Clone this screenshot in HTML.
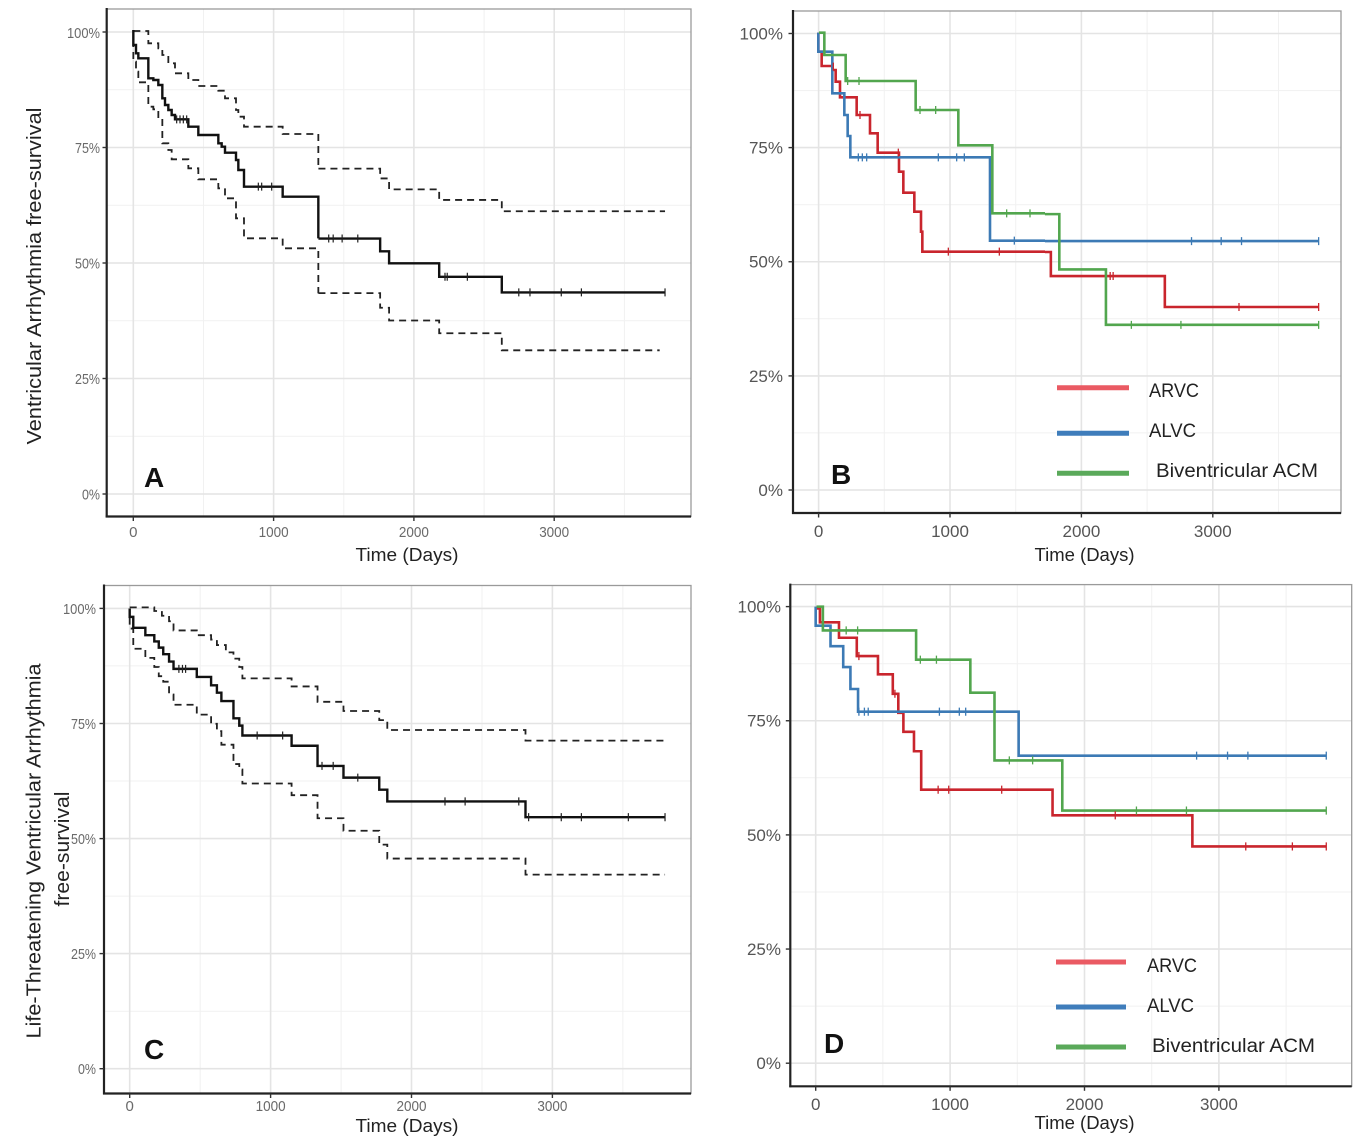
<!DOCTYPE html>
<html><head><meta charset="utf-8"><style>
html,body{margin:0;padding:0;background:#fff}
svg{display:block}
.gM{stroke:#e4e4e4;stroke-width:1.6}
.gm{stroke:#f1f1f1;stroke-width:1}
.bd{fill:none;stroke:#9a9a9a;stroke-width:1.3}
.ax{stroke:#222;stroke-width:2.2}
.tk{stroke:#333;stroke-width:1.4}
.ns{fill:none;vector-effect:non-scaling-stroke;stroke-linejoin:miter}
.k{stroke:#111;stroke-width:2.4}
.kd{stroke:#222;stroke-width:1.8;stroke-dasharray:7 5}
.kt{stroke:#222;stroke-width:1.2}
.r{stroke:#c9252d;stroke-width:2.6}
.b{stroke:#3c7ab5;stroke-width:2.6}
.g{stroke:#52a64e;stroke-width:2.6}
.rt{stroke:#c9252d;stroke-width:1.3}
.bt{stroke:#3c7ab5;stroke-width:1.3}
.gt{stroke:#52a64e;stroke-width:1.3}
.ylA{font-size:15px;fill:#6a6a6a;text-anchor:end}
.xlA{font-size:15px;fill:#6a6a6a;text-anchor:middle}
.ylB{font-size:17px;fill:#555;text-anchor:end}
.xlB{font-size:17px;fill:#555;text-anchor:middle}
.tt{font-size:18px;fill:#222;text-anchor:middle}
.yt{font-size:20px;fill:#222;text-anchor:middle}
.lg{font-size:19px;fill:#222}
.pl{font-size:28px;font-weight:bold;fill:#111}
</style></head><body>
<svg xmlns="http://www.w3.org/2000/svg" width="1363" height="1143" font-family="Liberation Sans, Arial, sans-serif">
<rect width="1363" height="1143" fill="#fff"/>

<!-- ================= PANEL A ================= -->
<g class="gm">
<line x1="203.5" y1="9" x2="203.5" y2="516.5"/><line x1="343.8" y1="9" x2="343.8" y2="516.5"/><line x1="484.1" y1="9" x2="484.1" y2="516.5"/><line x1="624.4" y1="9" x2="624.4" y2="516.5"/>
<line x1="106.7" y1="436.25" x2="691" y2="436.25"/><line x1="106.7" y1="320.75" x2="691" y2="320.75"/><line x1="106.7" y1="205.25" x2="691" y2="205.25"/><line x1="106.7" y1="89.75" x2="691" y2="89.75"/>
</g>
<g class="gM">
<line x1="133.3" y1="9" x2="133.3" y2="516.5"/><line x1="273.6" y1="9" x2="273.6" y2="516.5"/><line x1="413.9" y1="9" x2="413.9" y2="516.5"/><line x1="554.2" y1="9" x2="554.2" y2="516.5"/>
<line x1="106.7" y1="494" x2="691" y2="494"/><line x1="106.7" y1="378.5" x2="691" y2="378.5"/><line x1="106.7" y1="263" x2="691" y2="263"/><line x1="106.7" y1="147.5" x2="691" y2="147.5"/><line x1="106.7" y1="32" x2="691" y2="32"/>
</g>
<rect class="bd" x="106.7" y="9" width="584.3" height="507.5"/>
<line class="ax" x1="106.7" y1="8" x2="106.7" y2="517.5"/><line class="ax" x1="105.7" y1="516.5" x2="691" y2="516.5"/>
<g class="tk">
<line x1="102.5" y1="494" x2="106.7" y2="494"/><line x1="102.5" y1="378.5" x2="106.7" y2="378.5"/><line x1="102.5" y1="263" x2="106.7" y2="263"/><line x1="102.5" y1="147.5" x2="106.7" y2="147.5"/><line x1="102.5" y1="32" x2="106.7" y2="32"/>
<line x1="133.3" y1="516.5" x2="133.3" y2="521"/><line x1="273.6" y1="516.5" x2="273.6" y2="521"/><line x1="413.9" y1="516.5" x2="413.9" y2="521"/><line x1="554.2" y1="516.5" x2="554.2" y2="521"/>
</g>
<text class="ylA" x="100" y="38" textLength="33" lengthAdjust="spacingAndGlyphs">100%</text>
<text class="ylA" x="100" y="153" textLength="25" lengthAdjust="spacingAndGlyphs">75%</text>
<text class="ylA" x="100" y="268.5" textLength="25" lengthAdjust="spacingAndGlyphs">50%</text>
<text class="ylA" x="100" y="384" textLength="25" lengthAdjust="spacingAndGlyphs">25%</text>
<text class="ylA" x="100" y="499.5" textLength="18" lengthAdjust="spacingAndGlyphs">0%</text>
<text class="xlA" x="133.3" y="537">0</text>
<text class="xlA" x="273.6" y="537" textLength="30" lengthAdjust="spacingAndGlyphs">1000</text>
<text class="xlA" x="413.9" y="537" textLength="30" lengthAdjust="spacingAndGlyphs">2000</text>
<text class="xlA" x="554.2" y="537" textLength="30" lengthAdjust="spacingAndGlyphs">3000</text>
<text class="tt" x="407" y="561" textLength="103" lengthAdjust="spacingAndGlyphs">Time (Days)</text>
<text class="yt" transform="translate(41,276) rotate(-90)" textLength="337" lengthAdjust="spacingAndGlyphs">Ventricular Arrhythmia free-survival</text>
<text class="pl" x="144" y="487">A</text>

<g transform="translate(120,20) scale(0.333333)">
<path class="ns kd" d="M40,33 H85 V70 H115 V85 H127 V105 H145 V130 H165 V160 H205 V180 H235 V198 H295 V212 H315 V235 H348 V270 H355 V290 H372 V320 H488 V342 H595 V445"/>
<path class="ns kd" d="M40,60 V125 H48 V155 H55 V187 H85 V260 H100 V268 H115 V295 H127 V370 H145 V390 H155 V418 H205 V445 H235 V478 H295 V505 H315 V535 H348 V595 H372 V655 H488 V685 H595 V820"/>
<path class="ns k" d="M40,30 V75 H48 V100 H55 V115 H85 V175 H100 V180 H115 V195 H127 V235 H135 V255 H145 V270 H155 V285 H165 V298 H205 V320 H235 V345 H295 V370 H305 V380 H315 V398 H348 V420 H355 V450 H372 V500 H488 V530 H595 V655"/>
<path class="ns kt" d="M170,286v24 M180,286v24 M190,286v24 M200,286v24 M415,488v24 M425,488v24 M455,488v24"/>
</g>
<g transform="scale(0.44723,0.36417)">
<path class="ns kd" d="M712,463 H850 V490 H870 V520 H982 V549 H1122 V580 H1487"/>
<path class="ns kd" d="M712,805 H850 V845 H870 V880 H982 V915 H1122 V962 H1475"/>
<path class="ns k" d="M712,655 H850 V690 H870 V723 H982 V760 H1122 V803 H1487"/>
<path class="ns kt" d="M735,644v22 M745,644v22 M765,644v22 M800,644v22 M995,749v22 M1000,749v22 M1045,749v22 M1160,792v22 M1185,792v22 M1255,792v22 M1300,792v22 M1487,792v22"/>
</g>

<!-- ================= PANEL B ================= -->
<g class="gm">
<line x1="884.3" y1="11" x2="884.3" y2="513"/><line x1="1015.7" y1="11" x2="1015.7" y2="513"/><line x1="1147.1" y1="11" x2="1147.1" y2="513"/><line x1="1278.5" y1="11" x2="1278.5" y2="513"/>
<line x1="793" y1="432.9" x2="1341" y2="432.9"/><line x1="793" y1="318.8" x2="1341" y2="318.8"/><line x1="793" y1="204.7" x2="1341" y2="204.7"/><line x1="793" y1="90.6" x2="1341" y2="90.6"/>
</g>
<g class="gM">
<line x1="818.6" y1="11" x2="818.6" y2="513"/><line x1="950" y1="11" x2="950" y2="513"/><line x1="1081.4" y1="11" x2="1081.4" y2="513"/><line x1="1212.8" y1="11" x2="1212.8" y2="513"/>
<line x1="793" y1="490" x2="1341" y2="490"/><line x1="793" y1="375.9" x2="1341" y2="375.9"/><line x1="793" y1="261.75" x2="1341" y2="261.75"/><line x1="793" y1="147.6" x2="1341" y2="147.6"/><line x1="793" y1="33.5" x2="1341" y2="33.5"/>
</g>
<rect class="bd" x="793" y="11" width="548" height="502"/>
<line class="ax" x1="793" y1="10" x2="793" y2="514"/><line class="ax" x1="792" y1="513" x2="1341" y2="513"/>
<g class="tk">
<line x1="788.5" y1="490" x2="793" y2="490"/><line x1="788.5" y1="375.9" x2="793" y2="375.9"/><line x1="788.5" y1="261.75" x2="793" y2="261.75"/><line x1="788.5" y1="147.6" x2="793" y2="147.6"/><line x1="788.5" y1="33.5" x2="793" y2="33.5"/>
<line x1="818.6" y1="513" x2="818.6" y2="517.5"/><line x1="950" y1="513" x2="950" y2="517.5"/><line x1="1081.4" y1="513" x2="1081.4" y2="517.5"/><line x1="1212.8" y1="513" x2="1212.8" y2="517.5"/>
</g>
<text class="ylB" x="783" y="39.5">100%</text>
<text class="ylB" x="783" y="153.6">75%</text>
<text class="ylB" x="783" y="267.7">50%</text>
<text class="ylB" x="783" y="381.9">25%</text>
<text class="ylB" x="783" y="496">0%</text>
<text class="xlB" x="818.6" y="537">0</text>
<text class="xlB" x="950" y="537">1000</text>
<text class="xlB" x="1081.4" y="537">2000</text>
<text class="xlB" x="1212.8" y="537">3000</text>
<text class="tt" x="1084.5" y="561" textLength="100" lengthAdjust="spacingAndGlyphs">Time (Days)</text>
<text class="pl" x="831" y="484">B</text>

<g transform="translate(805,20) scale(0.333333)">
<path class="ns r" d="M40,38 V95 H50 V138 H82 V150 H92 V185 H105 V232 H155 V285 H195 V340 H218 V398 H282 V455 H295 V518 H328 V575 H348 V635 H352 V695 H720"/>
<path class="ns b" d="M40,38 V95 H82 V220 H118 V285 H128 V348 H136 V412 H555 V662 H720"/>
<path class="ns g" d="M42,38 H58 V105 H122 V183 H332 V270 H460 V376 H562 V580 H720"/>
<path class="ns rt" d="M85,128v24 M165,273v24 M280,386v24 M430,683v24 M583,683v24"/>
<path class="ns bt" d="M160,400v24 M172,400v24 M185,400v24 M400,400v24 M455,400v24 M478,400v24 M628,650v24"/>
<path class="ns gt" d="M128,171v24 M162,171v24 M345,258v24 M392,258v24 M605,568v24 M675,568v24"/>
</g>
<g transform="translate(700,0) scale(0.42373,0.36417)">
<path class="ns r" d="M814,692 H828 V758 H1097 V843 H1460"/>
<path class="ns b" d="M814,662 H1460"/>
<path class="ns g" d="M814,588 H848 V740 H958 V892 H1460"/>
<path class="ns rt" d="M968,747v22 M975,747v22 M1272,832v22 M1460,832v22"/>
<path class="ns bt" d="M1160,651v22 M1230,651v22 M1278,651v22 M1460,651v22"/>
<path class="ns gt" d="M1018,881v22 M1135,881v22 M1460,881v22"/>
</g>
<line x1="1057" y1="387.7" x2="1129" y2="387.7" stroke="#ea5a63" stroke-width="5"/>
<line x1="1057" y1="433.3" x2="1129" y2="433.3" stroke="#3f7dbb" stroke-width="5"/>
<line x1="1057" y1="473.3" x2="1129" y2="473.3" stroke="#5aa95a" stroke-width="5"/>
<text class="lg" x="1149" y="397" textLength="50" lengthAdjust="spacingAndGlyphs">ARVC</text>
<text class="lg" x="1149" y="437" textLength="47" lengthAdjust="spacingAndGlyphs">ALVC</text>
<text class="lg" x="1156" y="477" textLength="162" lengthAdjust="spacingAndGlyphs">Biventricular ACM</text>

<!-- ================= PANEL C ================= -->
<g class="gm">
<line x1="200.2" y1="585.5" x2="200.2" y2="1093.5"/><line x1="341.1" y1="585.5" x2="341.1" y2="1093.5"/><line x1="482" y1="585.5" x2="482" y2="1093.5"/><line x1="622.9" y1="585.5" x2="622.9" y2="1093.5"/>
<line x1="104" y1="1011.2" x2="691" y2="1011.2"/><line x1="104" y1="896.1" x2="691" y2="896.1"/><line x1="104" y1="781" x2="691" y2="781"/><line x1="104" y1="665.9" x2="691" y2="665.9"/>
</g>
<g class="gM">
<line x1="129.7" y1="585.5" x2="129.7" y2="1093.5"/><line x1="270.6" y1="585.5" x2="270.6" y2="1093.5"/><line x1="411.5" y1="585.5" x2="411.5" y2="1093.5"/><line x1="552.4" y1="585.5" x2="552.4" y2="1093.5"/>
<line x1="104" y1="1068.7" x2="691" y2="1068.7"/><line x1="104" y1="953.6" x2="691" y2="953.6"/><line x1="104" y1="838.6" x2="691" y2="838.6"/><line x1="104" y1="723.5" x2="691" y2="723.5"/><line x1="104" y1="608.4" x2="691" y2="608.4"/>
</g>
<rect class="bd" x="104" y="585.5" width="587" height="508"/>
<line class="ax" x1="104" y1="584.5" x2="104" y2="1094.5"/><line class="ax" x1="103" y1="1093.5" x2="691" y2="1093.5"/>
<g class="tk">
<line x1="99.5" y1="1068.7" x2="104" y2="1068.7"/><line x1="99.5" y1="953.6" x2="104" y2="953.6"/><line x1="99.5" y1="838.6" x2="104" y2="838.6"/><line x1="99.5" y1="723.5" x2="104" y2="723.5"/><line x1="99.5" y1="608.4" x2="104" y2="608.4"/>
<line x1="129.7" y1="1093.5" x2="129.7" y2="1098"/><line x1="270.6" y1="1093.5" x2="270.6" y2="1098"/><line x1="411.5" y1="1093.5" x2="411.5" y2="1098"/><line x1="552.4" y1="1093.5" x2="552.4" y2="1098"/>
</g>
<text class="ylA" x="96" y="614" textLength="33" lengthAdjust="spacingAndGlyphs">100%</text>
<text class="ylA" x="96" y="729" textLength="25" lengthAdjust="spacingAndGlyphs">75%</text>
<text class="ylA" x="96" y="844" textLength="25" lengthAdjust="spacingAndGlyphs">50%</text>
<text class="ylA" x="96" y="959" textLength="25" lengthAdjust="spacingAndGlyphs">25%</text>
<text class="ylA" x="96" y="1074" textLength="18" lengthAdjust="spacingAndGlyphs">0%</text>
<text class="xlA" x="129.7" y="1111">0</text>
<text class="xlA" x="270.6" y="1111" textLength="30" lengthAdjust="spacingAndGlyphs">1000</text>
<text class="xlA" x="411.5" y="1111" textLength="30" lengthAdjust="spacingAndGlyphs">2000</text>
<text class="xlA" x="552.4" y="1111" textLength="30" lengthAdjust="spacingAndGlyphs">3000</text>
<text class="tt" x="407" y="1132" textLength="103" lengthAdjust="spacingAndGlyphs">Time (Days)</text>
<text class="yt" transform="translate(40.5,851) rotate(-90)" textLength="375" lengthAdjust="spacingAndGlyphs">Life-Threatening Ventricular Arrhythmia</text>
<text class="yt" transform="translate(69,849) rotate(-90)" textLength="115" lengthAdjust="spacingAndGlyphs">free-survival</text>
<text class="pl" x="144" y="1059">C</text>

<g transform="translate(0,570) scale(0.44723,0.36617)">
<path class="ns kd" d="M290,102 H345 V112 H362 V125 H378 V140 H388 V165 H440 V178 H472 V190 H485 V205 H505 V225 H522 V242 H535 V265 H542 V296 H652 V318 H710 V360 H768 V385 H848 V410 H866 V437 H1175 V466 H1487"/>
<path class="ns kd" d="M290,130 V160 H298 V215 H325 V240 H345 V265 H355 V290 H365 V305 H378 V340 H388 V368 H440 V395 H472 V420 H485 V440 H495 V477 H522 V530 H535 V545 H542 V583 H652 V615 H710 V678 H768 V712 H848 V750 H866 V788 H1175 V832 H1487"/>
<path class="ns k" d="M290,105 V128 H298 V158 H325 V178 H345 V195 H355 V212 H365 V230 H378 V250 H388 V270 H440 V292 H472 V315 H485 V335 H495 V358 H522 V405 H535 V425 H542 V452 H652 V480 H710 V535 H768 V567 H848 V600 H866 V632 H1175 V675 H1487"/>
<path class="ns kt" d="M400,259v22 M408,259v22 M415,259v22 M575,441v22 M632,441v22 M720,524v22 M745,524v22 M800,556v22 M995,621v22 M1040,621v22 M1160,621v22 M1182,664v22 M1255,664v22 M1300,664v22 M1405,664v22 M1487,664v22"/>
</g>

<!-- ================= PANEL D ================= -->
<g class="gm">
<line x1="882.9" y1="584.6" x2="882.9" y2="1086.3"/><line x1="1017.3" y1="584.6" x2="1017.3" y2="1086.3"/><line x1="1151.7" y1="584.6" x2="1151.7" y2="1086.3"/><line x1="1286.1" y1="584.6" x2="1286.1" y2="1086.3"/>
<line x1="790.3" y1="1006.1" x2="1351.7" y2="1006.1"/><line x1="790.3" y1="892" x2="1351.7" y2="892"/><line x1="790.3" y1="777.8" x2="1351.7" y2="777.8"/><line x1="790.3" y1="663.7" x2="1351.7" y2="663.7"/>
</g>
<g class="gM">
<line x1="815.7" y1="584.6" x2="815.7" y2="1086.3"/><line x1="950.1" y1="584.6" x2="950.1" y2="1086.3"/><line x1="1084.5" y1="584.6" x2="1084.5" y2="1086.3"/><line x1="1218.9" y1="584.6" x2="1218.9" y2="1086.3"/>
<line x1="790.3" y1="1063.2" x2="1351.7" y2="1063.2"/><line x1="790.3" y1="949.05" x2="1351.7" y2="949.05"/><line x1="790.3" y1="834.9" x2="1351.7" y2="834.9"/><line x1="790.3" y1="720.75" x2="1351.7" y2="720.75"/><line x1="790.3" y1="606.6" x2="1351.7" y2="606.6"/>
</g>
<rect class="bd" x="790.3" y="584.6" width="561.4" height="501.7"/>
<line class="ax" x1="790.3" y1="583.6" x2="790.3" y2="1087.3"/><line class="ax" x1="789.3" y1="1086.3" x2="1351.7" y2="1086.3"/>
<g class="tk">
<line x1="785.8" y1="1063.2" x2="790.3" y2="1063.2"/><line x1="785.8" y1="949.05" x2="790.3" y2="949.05"/><line x1="785.8" y1="834.9" x2="790.3" y2="834.9"/><line x1="785.8" y1="720.75" x2="790.3" y2="720.75"/><line x1="785.8" y1="606.6" x2="790.3" y2="606.6"/>
<line x1="815.7" y1="1086.3" x2="815.7" y2="1090.8"/><line x1="950.1" y1="1086.3" x2="950.1" y2="1090.8"/><line x1="1084.5" y1="1086.3" x2="1084.5" y2="1090.8"/><line x1="1218.9" y1="1086.3" x2="1218.9" y2="1090.8"/>
</g>
<text class="ylB" x="781" y="612.6">100%</text>
<text class="ylB" x="781" y="726.7">75%</text>
<text class="ylB" x="781" y="840.9">50%</text>
<text class="ylB" x="781" y="955">25%</text>
<text class="ylB" x="781" y="1069.2">0%</text>
<text class="xlB" x="815.7" y="1110">0</text>
<text class="xlB" x="950.1" y="1110">1000</text>
<text class="xlB" x="1084.5" y="1110">2000</text>
<text class="xlB" x="1218.9" y="1110">3000</text>
<text class="tt" x="1084.5" y="1129" textLength="100" lengthAdjust="spacingAndGlyphs">Time (Days)</text>
<text class="pl" x="824" y="1053">D</text>

<g transform="translate(700,570) scale(0.42373,0.36617)">
<path class="ns r" d="M275,100 V105 H283 V143 H328 V185 H370 V235 H420 V285 H455 V338 H468 V390 H480 V442 H505 V495 H522 V600 H832 V670 H1162 V755 H1478"/>
<path class="ns b" d="M273,100 V152 H308 V208 H338 V265 H355 V325 H373 V387 H752 V507 H1478"/>
<path class="ns g" d="M275,100 H290 V165 H510 V245 H638 V335 H695 V520 H855 V657 H1478"/>
<path class="ns rt" d="M375,224v22 M460,327v22 M562,589v22 M587,589v22 M712,589v22 M980,659v22 M1288,744v22 M1398,744v22 M1478,744v22"/>
<path class="ns bt" d="M375,376v22 M388,376v22 M397,376v22 M565,376v22 M612,376v22 M627,376v22 M1172,496v22 M1245,496v22 M1293,496v22 M1478,496v22"/>
<path class="ns gt" d="M345,154v22 M372,154v22 M520,234v22 M558,234v22 M730,509v22 M785,509v22 M1030,646v22 M1148,646v22 M1478,646v22"/>
</g>
<line x1="1056" y1="962" x2="1126" y2="962" stroke="#ea5a63" stroke-width="5"/>
<line x1="1056" y1="1007" x2="1126" y2="1007" stroke="#3f7dbb" stroke-width="5"/>
<line x1="1056" y1="1047" x2="1126" y2="1047" stroke="#5aa95a" stroke-width="5"/>
<text class="lg" x="1147" y="972" textLength="50" lengthAdjust="spacingAndGlyphs">ARVC</text>
<text class="lg" x="1147" y="1012" textLength="47" lengthAdjust="spacingAndGlyphs">ALVC</text>
<text class="lg" x="1152" y="1052" textLength="163" lengthAdjust="spacingAndGlyphs">Biventricular ACM</text>
</svg>
</body></html>
